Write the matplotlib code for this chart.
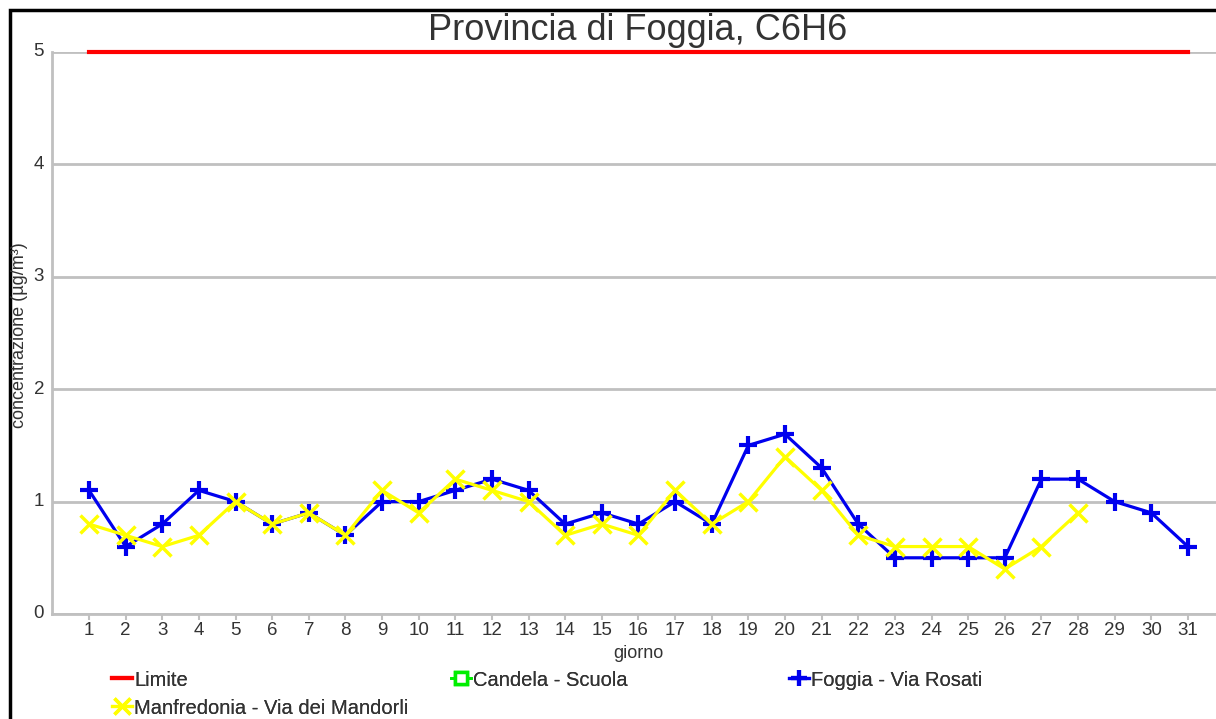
import numpy as np
import matplotlib.pyplot as plt
from matplotlib.patches import Rectangle

plt.rcParams['font.family'] = ['Liberation Sans', 'DejaVu Sans']

giorni = list(range(1, 32))
limite = [5] * 31
foggia = [1.1, 0.6, 0.8, 1.1, 1.0, 0.8, 0.9, 0.7, 1.0, 1.0, 1.1, 1.2, 1.1, 0.8, 0.9, 0.8,
          1.0, 0.8, 1.5, 1.6, 1.3, 0.8, 0.5, 0.5, 0.5, 0.5, 1.2, 1.2, 1.0, 0.9, 0.6]
manfredonia = [0.8, 0.7, 0.6, 0.7, 1.0, 0.8, 0.9, 0.7, 1.1, 0.9, 1.2, 1.1, 1.0, 0.7, 0.8, 0.7,
               1.1, 0.8, 1.0, 1.4, 1.1, 0.7, 0.6, 0.6, 0.6, 0.4, 0.6, 0.9, np.nan, np.nan, np.nan]
candela = [np.nan] * 31

W, H = 1216, 719
fig = plt.figure(figsize=(W / 100, H / 100), dpi=100)
# axes: x=0 at px 52.4, 36.63 px per day; y=0 at px 614, y=5 at px 52
x0 = 52.4
step = 36.63
ax = fig.add_axes([x0 / W, (H - 614) / H, (32 * step) / W, (614 - 52) / H])
ax.set_xlim(0, 32)
ax.set_ylim(0, 5)

grey = '#c0c0c0'
ax.set_yticks([0, 1, 2, 3, 4, 5])
ax.set_xticks(giorni)
ax.grid(axis='y', color=grey, linewidth=2)
ax.set_axisbelow(True)
for s in ['top', 'right']:
    ax.spines[s].set_visible(False)
for s in ['left', 'bottom']:
    ax.spines[s].set_color(grey)
    ax.spines[s].set_linewidth(2)
ax.tick_params(axis='x', colors=grey, labelcolor='#333333', labelsize=13.5, length=4, width=1.5, pad=2)
ax.tick_params(axis='y', length=0, labelcolor='#333333', labelsize=13.5, pad=6)
for lab in ax.get_yticklabels():
    lab.set_verticalalignment('center')

l_lim, = ax.plot(giorni, limite, color='#ff0000', lw=3, clip_on=False)
l_can, = ax.plot(giorni, candela, color='#00ee00', lw=2, marker='s', ms=10,
                 mfc='white', mec='#00ee00', mew=2.5)
l_fog, = ax.plot(giorni, foggia, color='#0000ee', lw=2.3, marker='+', ms=13, mew=3)
l_man, = ax.plot(giorni, manfredonia, color='#ffff00', lw=2.3, marker='x', ms=13, mew=2.5)

fig.text(638 / W, 1 - 30 / H, 'Provincia di Foggia, C6H6', ha='center', va='center',
         fontsize=26, color='#333333')
fig.text(20 / W, 1 - 335 / H, 'concentrazione (µg/m³)', rotation=90, ha='center',
         va='center', fontsize=13, color='#333333')
fig.text(638 / W, 1 - 653 / H, 'giorno', ha='center', va='center', fontsize=13, color='#333333')

# legend entries placed individually like the original layout
entries = [(l_lim, 'Limite', 112, 680), (l_can, 'Candela - Scuola', 451, 680),
           (l_fog, 'Foggia - Via Rosati', 789, 680), (l_man, 'Manfredonia - Via dei Mandorli', 112, 708)]
for h, name, px, py in entries:
    leg = fig.legend(handles=[h], labels=[name], loc='center left',
                     bbox_to_anchor=(px / W, 1 - py / H), frameon=False,
                     handlelength=1.0, handletextpad=0.1, fontsize=14.5,
                     borderpad=0, borderaxespad=0, markerscale=0.9)
    for t in leg.get_texts():
        t.set_color('#333333')
    fig.add_artist(leg)

# black frame, cut off on the right and bottom like the source image
fig.patches.append(Rectangle((10 / W, -0.1), 1.2, 1 - 10 / H + 0.1, transform=fig.transFigure,
                             fill=False, edgecolor='black', linewidth=2.5))

fig.savefig('out.png', dpi=100)
